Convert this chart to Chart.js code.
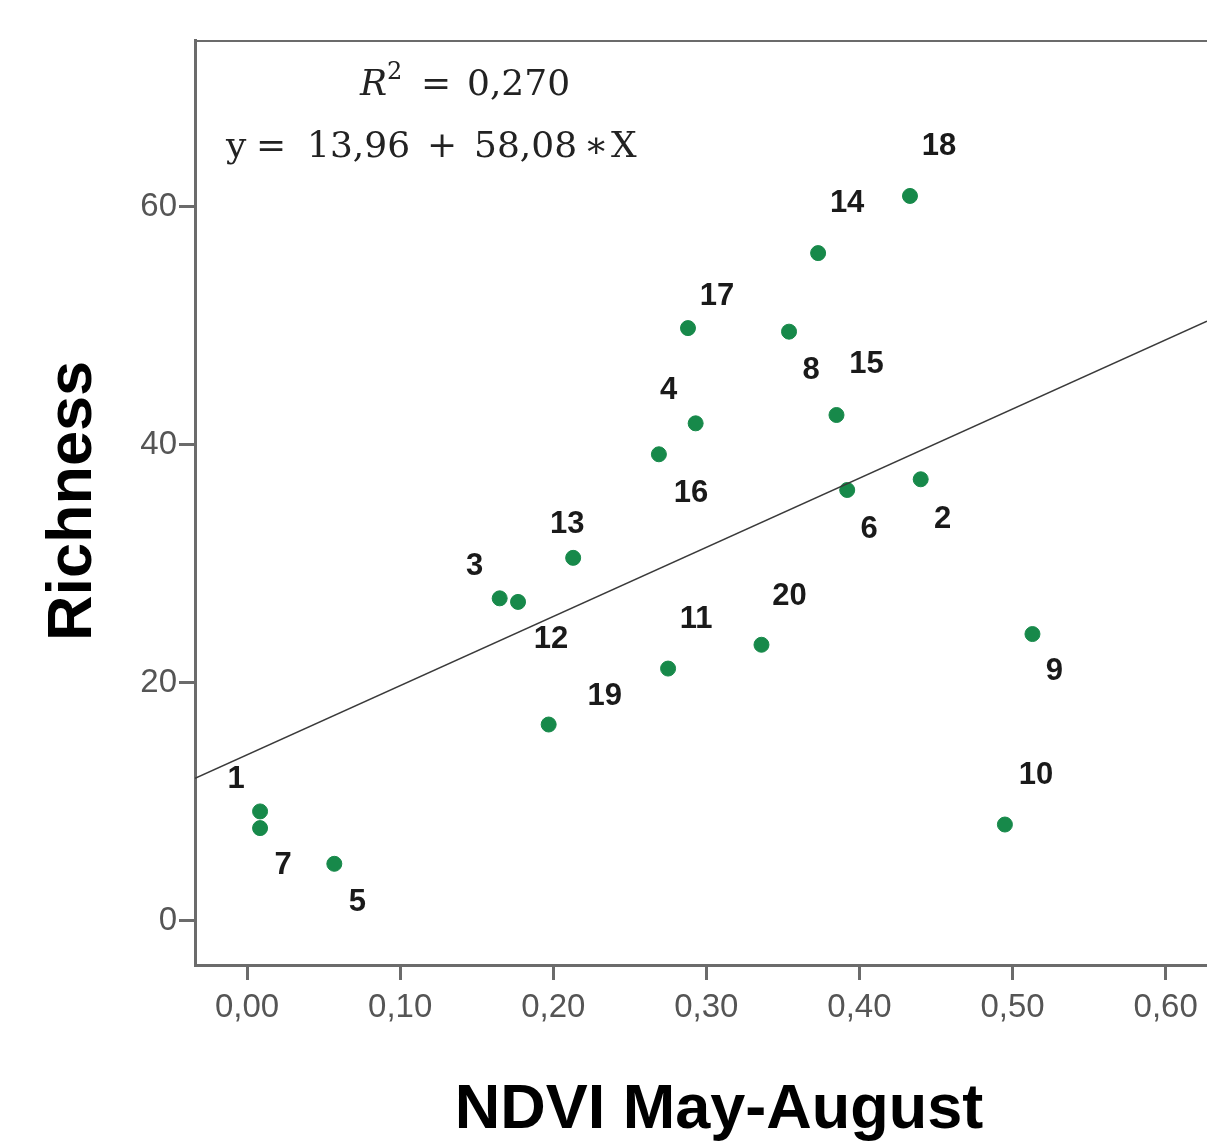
<!DOCTYPE html>
<html>
<head>
<meta charset="utf-8">
<script src="https://cdn.jsdelivr.net/npm/chart.js@4"></script>
<style>
  html, body { margin: 0; padding: 0; background: #fff; overflow: hidden; }
  canvas { display: block; }
</style>
</head>
<body>
<canvas id="scatter" width="1207" height="1146"></canvas>
<script>
// sites, NDVI (May-August) and species richness
const siteIds  = ['1','2','3','4','5','6','7','8','9','10','11','12','13','14','15','16','17','18','19','20'];
const ndvi     = [0.0085, 0.440, 0.165, 0.293, 0.057, 0.392, 0.0085, 0.354, 0.513, 0.495, 0.275, 0.177, 0.213, 0.373, 0.385, 0.269, 0.288, 0.433, 0.197, 0.336];
const richness = [9.2, 37.1, 27.1, 41.8, 4.8, 36.2, 7.8, 49.5, 24.1, 8.1, 21.2, 26.8, 30.5, 56.1, 42.5, 39.2, 49.8, 60.9, 16.5, 23.2];

const xTicks = [0, 0.1, 0.2, 0.3, 0.4, 0.5, 0.6];
const yTicks = [0, 20, 40, 60];

// linear fit shown in the figure
const fitIntercept = 13.96;
const fitSlope = 58.08;
const rSquared = '0,270';

const xMin = -0.034, xMax = 0.627;
const yMin = -3.7, yMax = 74;

// where each site number sits relative to its dot (pixels)
const labelOffsets = [
  [-24,-32], [22,40], [-25,-32], [-27,-33], [23,39], [22,39], [23,37], [22,39], [22,37], [31,-49],
  [28,-49], [33,38], [-6,-33], [29,-50], [30,-51], [32,39], [29,-32], [29,-49], [56,-28], [28,-48]
];

const points = ndvi.map((x, i) => ({ x: x, y: richness[i] }));
const fitLine = [xMin, xMax].map(x => ({ x: x, y: fitIntercept + fitSlope * x }));

const axisGray = '#6b6b6b';
const dotGreen = '#17894a';
const serif = '"DejaVu Serif", "Liberation Serif", serif';

// the equation, token by token: [text, left x, baseline y, font]
const fitTokens = [
  ['R', 360, 95, 'italic 36px ' + serif],
  ['2', 387, 79, '24px ' + serif],
  ['=', 421, 95, '36px ' + serif],
  [rSquared, 467, 95, '36px ' + serif],
  ['y', 226, 157, '36px ' + serif],
  ['=', 256, 157, '36px ' + serif],
  ['13,96', 307, 157, '36px ' + serif],
  ['+', 427, 157, '36px ' + serif],
  ['58,08', 474, 157, '36px ' + serif],
  ['\u2217', 584, 157, '36px ' + serif],
  ['X', 611, 157, '36px ' + serif]
];

const decorations = {
  id: 'decorations',
  afterDatasetsDraw(chart) {
    const ctx = chart.ctx;
    const meta = chart.getDatasetMeta(1);
    ctx.save();
    ctx.fillStyle = '#1a1a1a';
    ctx.font = 'bold 31px "Liberation Sans", Arial, sans-serif';
    ctx.textAlign = 'center';
    ctx.textBaseline = 'middle';
    meta.data.forEach((el, i) => {
      const off = labelOffsets[i];
      ctx.fillText(siteIds[i], el.x + off[0], el.y + off[1]);
    });
    ctx.restore();
  },
  afterDraw(chart) {
    const ctx = chart.ctx;
    const area = chart.chartArea;
    ctx.save();
    // top frame line
    ctx.strokeStyle = axisGray;
    ctx.lineWidth = 2;
    ctx.beginPath();
    ctx.moveTo(area.left, area.top + 1);
    ctx.lineTo(area.right, area.top + 1);
    ctx.stroke();

    // fit annotation
    ctx.fillStyle = '#222';
    ctx.textBaseline = 'alphabetic';
    ctx.textAlign = 'left';
    fitTokens.forEach(t => {
      ctx.font = t[3];
      ctx.fillText(t[0], t[1], t[2]);
    });

    // axis titles
    ctx.fillStyle = '#000';
    ctx.font = 'bold 63px "Liberation Sans", Arial, sans-serif';
    ctx.textAlign = 'center';
    ctx.fillText('NDVI May-August', 719, 1128);
    ctx.translate(74, 501);
    ctx.rotate(-Math.PI / 2);
    ctx.textBaseline = 'middle';
    ctx.fillText('Richness', 0, 0);
    ctx.restore();
  }
};

const ctx = document.getElementById('scatter').getContext('2d');
new Chart(ctx, {
  type: 'scatter',
  data: {
    datasets: [{
      type: 'line',
      data: fitLine,
      borderColor: '#3a3a3a',
      borderWidth: 1.6,
      pointRadius: 0,
      fill: false
    }, {
      data: points,
      backgroundColor: dotGreen,
      borderColor: dotGreen,
      pointRadius: 7.5,
      pointHoverRadius: 7.5
    }]
  },
  options: {
    responsive: false,
    animation: false,
    layout: { autoPadding: false, padding: { top: 40, left: 0, right: 0, bottom: 0 } },
    plugins: {
      legend: { display: false },
      tooltip: { enabled: false }
    },
    scales: {
      x: {
        type: 'linear',
        min: xMin,
        max: xMax,
        afterBuildTicks(scale) { scale.ticks = xTicks.map(v => ({ value: v })); },
        afterFit(scale) {
          scale.height = 1146 - 965;
          scale.paddingLeft = 0;
          scale.paddingRight = 0;
        },
        grid: { drawOnChartArea: false, drawTicks: true, tickLength: 15, color: axisGray, lineWidth: 3 },
        border: { display: true, color: axisGray, width: 3 },
        ticks: {
          padding: 8,
          color: '#555',
          font: { family: '"Liberation Sans", Arial, sans-serif', size: 33 },
          maxRotation: 0,
          callback: v => v.toFixed(2).replace('.', ',')
        }
      },
      y: {
        type: 'linear',
        min: yMin,
        max: yMax,
        afterBuildTicks(scale) { scale.ticks = yTicks.map(v => ({ value: v })); },
        afterFit(scale) {
          scale.width = 195;
          scale.paddingTop = 0;
          scale.paddingBottom = 0;
        },
        grid: { drawOnChartArea: false, drawTicks: true, tickLength: 16, color: axisGray, lineWidth: 3 },
        border: { display: true, color: axisGray, width: 3 },
        ticks: {
          padding: 2,
          color: '#555',
          font: { family: '"Liberation Sans", Arial, sans-serif', size: 33 },
          callback: v => String(v)
        }
      }
    }
  },
  plugins: [decorations]
});
</script>
</body>
</html>
